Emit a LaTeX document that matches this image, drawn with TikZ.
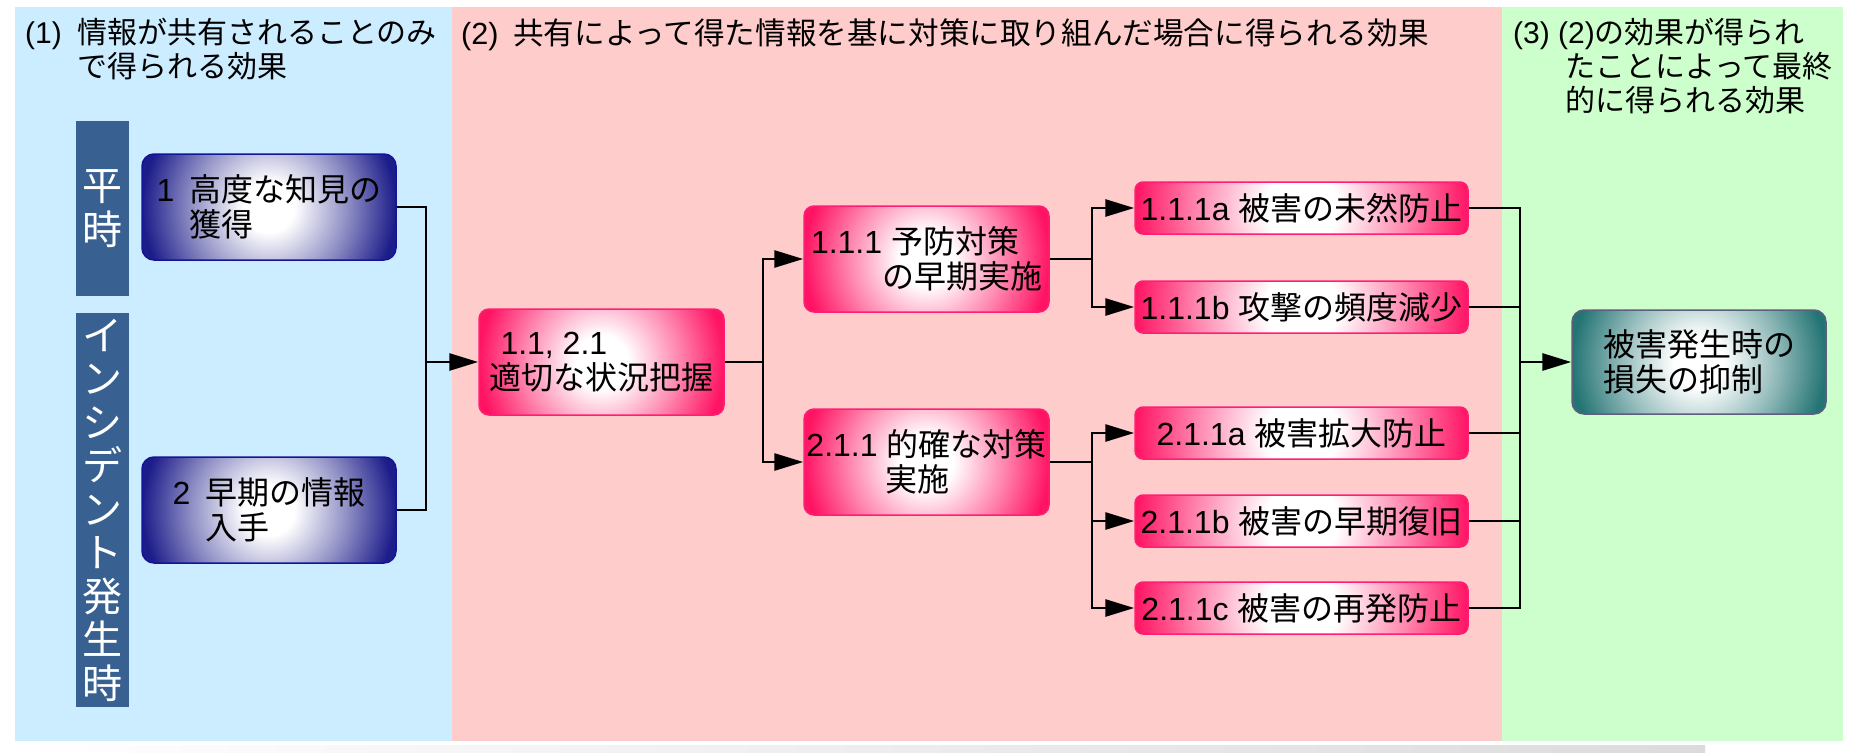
\documentclass[tikz,border=0pt]{standalone}
\usepackage{fontspec}
\setmainfont{Noto Sans CJK JP}
\newfontfamily\latf{Liberation Sans}
\newcommand\lt[1]{{\latf #1}}
\newcommand\boxfont{\fontsize{32}{35}\selectfont}
\newcommand\titlefont{\fontsize{30}{34}\selectfont}
\newcommand\widetitlefont{\fontsize{30.6}{34}\selectfont}
\newcommand\barfont{\fontsize{40}{43.5}\selectfont}
\usetikzlibrary{arrows.meta,calc}
\definecolor{bluepanel}{RGB}{204,236,255}
\definecolor{pinkpanel}{RGB}{255,204,204}
\definecolor{greenpanel}{RGB}{204,255,204}
\definecolor{barblue}{RGB}{56,97,145}
\definecolor{navyE}{RGB}{28,28,138}
\colorlet{navyM}{navyE!50!white}
\definecolor{navyB}{RGB}{20,20,150}
\definecolor{pinkE}{RGB}{255,20,100}
\colorlet{pinkM}{pinkE!50!white}
\definecolor{pinkB}{RGB}{255,30,115}
\definecolor{tealE}{RGB}{36,116,116}
\colorlet{tealM}{tealE!50!white}
\definecolor{tealB}{RGB}{95,95,125}
\pgfdeclareradialshading{glowblue}{\pgfpoint{0bp}{0bp}}{color(0bp)=(white); color(5bp)=(white); color(15.5bp)=(navyM); color(25bp)=(navyE); color(50bp)=(navyE)}
\pgfdeclareradialshading{glowpink}{\pgfpoint{0bp}{0bp}}{color(0bp)=(white); color(5.5bp)=(white); color(15.5bp)=(pinkM); color(25bp)=(pinkE); color(50bp)=(pinkE)}
\pgfdeclareradialshading{glowteal}{\pgfpoint{0bp}{0bp}}{color(0bp)=(white); color(5bp)=(white); color(15.5bp)=(tealM); color(25bp)=(tealE); color(50bp)=(tealE)}
\begin{document}
\begin{tikzpicture}[x=1pt,y=-1pt,
  conn/.style={line width=2.8pt, line join=miter},
  arr/.style={conn, -{Triangle[length=29pt,width=17pt]}},
  glow/.style={path picture={\shade[shading=#1] let \p1=(path picture bounding box.east), \p2=(path picture bounding box.center) in (\p2) circle [radius=\x1-\x2];}},
  bluebox/.style={draw=navyB, line width=1.5pt, fill=navyE, glow=glowblue, rounded corners=12pt, minimum width=254pt, minimum height=106pt, font=\boxfont, align=left, inner sep=0pt},
  pinkbox/.style={draw=pinkB, line width=1.5pt, fill=pinkE, glow=glowpink, rounded corners=10pt, minimum width=245pt, minimum height=106pt, font=\boxfont, align=left, inner sep=0pt},
  leafbox/.style={pinkbox, minimum width=333pt, minimum height=52pt, rounded corners=8pt},
  tealbox/.style={draw=tealB, line width=1.5pt, fill=tealE, glow=glowteal, rounded corners=12pt, minimum width=254pt, minimum height=104pt, font=\boxfont, align=left, inner sep=0pt},
  sidebar/.style={fill=barblue, minimum width=53pt, inner sep=0pt, text=white, font=\barfont, align=center},
  title/.style={anchor=north west, inner sep=0pt, font=\titlefont, align=left}
]
\useasboundingbox (0,0) rectangle (1859,752);
% panels
\fill[bluepanel] (15,7) rectangle (452,741);
\fill[pinkpanel] (452,7) rectangle (1502,741);
\fill[greenpanel] (1502,7) rectangle (1843,741);
\shade[left color=white, right color=black!14] (15,745) rectangle (1705,752);
% titles
\node[title] (t1) at (25,18) {\makebox[52pt][l]{\lt{(1)}}情報が共有されることのみ\\\hspace*{52pt}で得られる効果};
\node[title, font=\widetitlefont] (t2) at (461,18) {\makebox[52pt][l]{\lt{(2)}}共有によって得た情報を基に対策に取り組んだ場合に得られる効果};
\node[title] (t3) at (1513,18) {\lt{(3) (2)}の効果が得られ\\\hspace*{52pt}たことによって最終\\\hspace*{52pt}的に得られる効果};
% side bars
\node[sidebar, minimum height=175pt] (b1) at (102.5,208.5) {平\\時};
\node[sidebar, minimum height=394pt] (b2) at (102.5,510) {イ\\ン\\シ\\デ\\ン\\ト\\発\\生\\時};
% boxes
\node[bluebox] (n1) at (269,207) {\makebox[33pt][l]{\lt{1}}高度な知見の\\\hspace*{33pt}獲得};
\node[bluebox] (n2) at (269,510) {\makebox[33pt][l]{\lt{2}}早期の情報\\\hspace*{33pt}入手};
\node[pinkbox] (n11) at (601.5,362) {\hspace*{11pt}\lt{1.1, 2.1}\\適切な状況把握};
\node[pinkbox] (n111) at (926.5,259) {\lt{1.1.1 }予防対策\\\hspace*{71pt}の早期実施};
\node[pinkbox] (n211) at (926.5,462) {\lt{2.1.1 }的確な対策\\\hspace*{79pt}実施};
\node[leafbox] (a) at (1301.5,208) {\lt{1.1.1a }被害の未然防止};
\node[leafbox] (b) at (1301.5,307) {\lt{1.1.1b }攻撃の頻度減少};
\node[leafbox] (c) at (1301.5,433) {\lt{2.1.1a }被害拡大防止};
\node[leafbox] (d) at (1301.5,521) {\lt{2.1.1b }被害の早期復旧};
\node[leafbox] (e) at (1301.5,608) {\lt{2.1.1c }被害の再発防止};
\node[tealbox] (g) at (1699,362) {被害発生時の\\損失の抑制};
% junctions
\coordinate (j1) at (426,362);
\coordinate (j2) at (763,362);
\coordinate (j3) at (1092,259);
\coordinate (j4) at (1092,462);
\coordinate (j5) at (1520,362);
% connectors
\draw[conn] (n1.east) -| (j1);
\draw[conn] (n2.east) -| (j1);
\draw[arr] (j1) -- (n11.west);
\draw[conn] (n11.east) -- (j2);
\draw[arr] (j2) |- (n111.west);
\draw[arr] (j2) |- (n211.west);
\draw[conn] (n111.east) -- (j3);
\draw[arr] (j3) |- (a.west);
\draw[arr] (j3) |- (b.west);
\draw[conn] (n211.east) -- (j4);
\draw[arr] (j4) |- (c.west);
\draw[arr] (j4) |- (d.west);
\draw[arr] (j4) |- (e.west);
\draw[conn] (a.east) -| (j5);
\draw[conn] (b.east) -| (j5);
\draw[conn] (c.east) -| (j5);
\draw[conn] (d.east) -| (j5);
\draw[conn] (e.east) -| (j5);
\draw[arr] (j5) -- (g.west);
\end{tikzpicture}
\end{document}
